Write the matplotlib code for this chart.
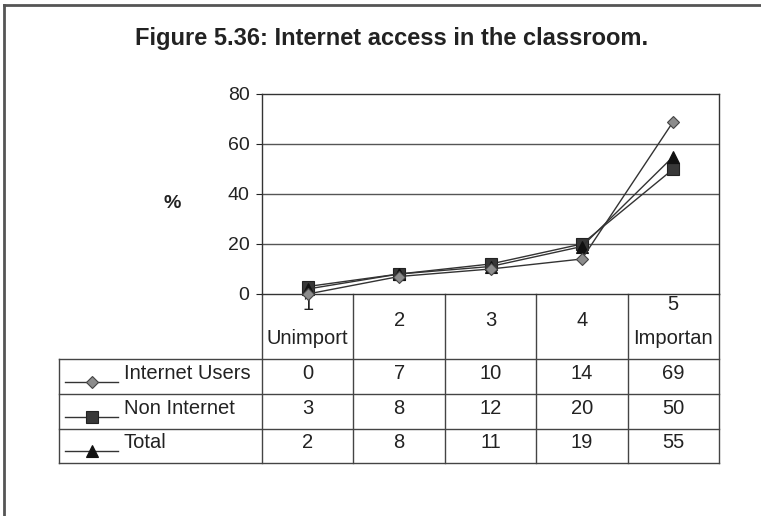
import matplotlib
matplotlib.use("Agg")
import matplotlib.pyplot as plt
from matplotlib.lines import Line2D

# datos del gráfico
categories = ["1\nUnimport", "2", "3", "4", "5\nImportan"]
series_names = ["Internet Users", "Non Internet", "Total"]
internet_users = [0, 7, 10, 14, 69]
non_internet = [3, 8, 12, 20, 50]
total = [2, 8, 11, 19, 55]
y_ticks = [0, 20, 40, 60, 80]

plt.rcParams['font.family'] = ['Liberation Sans', 'DejaVu Sans']

W, H = 761, 516
fig = plt.figure(figsize=(W / 100, H / 100), dpi=100)
fig.patch.set_facecolor("white")

# capa de fondo en píxeles para marco y tabla
bg = fig.add_axes([0, 0, 1, 1])
bg.set_xlim(0, W)
bg.set_ylim(H, 0)
bg.axis("off")

edge = "#555555"
bg.plot([4, W], [5, 5], color=edge, lw=2)
bg.plot([4, 4], [5, H], color=edge, lw=2)

txt = "#222222"
bg.text(392, 38, "Figure 5.36: Internet access in the classroom.",
        ha="center", va="center", fontsize=17, fontweight="bold", color=txt)
bg.text(172, 204, "%", ha="center", va="center", fontsize=14,
        fontweight="bold", color=txt)

# gráfico de líneas
x0, x1, y0, y1 = 262, 719, 94, 294
ax = fig.add_axes([x0 / W, 1 - y1 / H, (x1 - x0) / W, (y1 - y0) / H])
n = len(categories)
xs = list(range(n))
ax.set_xlim(-0.5, n - 0.5)
ax.set_ylim(0, 80)
ax.set_yticks(y_ticks)
ax.set_xticks([])
ax.tick_params(axis="y", length=4, width=0.8, direction="out", pad=5,
               labelsize=14, colors=txt)
for s in ax.spines.values():
    s.set_color("#333333")
    s.set_linewidth(1)
for t in y_ticks[1:-1]:
    ax.axhline(t, color="#555555", lw=1, zorder=1)
ax.patch.set_alpha(0)

styles = {
    "Internet Users": dict(marker="D", ms=6.5, mfc="#8c8c8c", mec="#444444"),
    "Non Internet": dict(marker="s", ms=8.5, mfc="#383838", mec="#222222"),
    "Total": dict(marker="^", ms=9, mfc="#111111", mec="#111111"),
}
values = {"Internet Users": internet_users, "Non Internet": non_internet, "Total": total}
for name, z in [("Non Internet", 3), ("Total", 4), ("Internet Users", 5)]:
    ax.plot(xs, values[name], color="#333333", lw=1, clip_on=False, zorder=z,
            mew=0.8, **styles[name])

# tabla de datos
tc = "#444444"
fs = 14.5
col_w = (x1 - x0) / n
rows_y = [y1, 359, 394, 429, 463]
legend_left = 59
for i in range(n + 1):
    xv = x0 + i * col_w
    bg.plot([xv, xv], [y1, rows_y[-1]], color=tc, lw=1)
for yv in rows_y[1:]:
    bg.plot([legend_left, x1], [yv, yv], color=tc, lw=1)
bg.plot([legend_left, legend_left], [rows_y[1], rows_y[-1]], color=tc, lw=1)

for i, c in enumerate(categories):
    cx = x0 + (i + 0.5) * col_w
    if "\n" in c:
        top, bot = c.split("\n")
        bg.text(cx, 305, top, ha="center", va="center", fontsize=fs, color=txt)
        bg.text(cx, 338, bot, ha="center", va="center", fontsize=fs, color=txt)
    else:
        bg.text(cx, 320, c, ha="center", va="center", fontsize=fs, color=txt)

for r, name in enumerate(series_names):
    cy = (rows_y[r + 1] + rows_y[r + 2]) / 2 - 3
    bg.add_line(Line2D([65, 91.5, 118], [cy + 8, cy + 8, cy + 8], color="#333333",
                       lw=1, markevery=[1], mew=0.8, **styles[name]))
    bg.text(124, cy, name, ha="left", va="center", fontsize=fs, color=txt)
    for i, v in enumerate(values[name]):
        cx = x0 + (i + 0.5) * col_w
        bg.text(cx, cy, str(v), ha="center", va="center", fontsize=fs, color=txt)

fig.savefig("out.png", dpi=100)
